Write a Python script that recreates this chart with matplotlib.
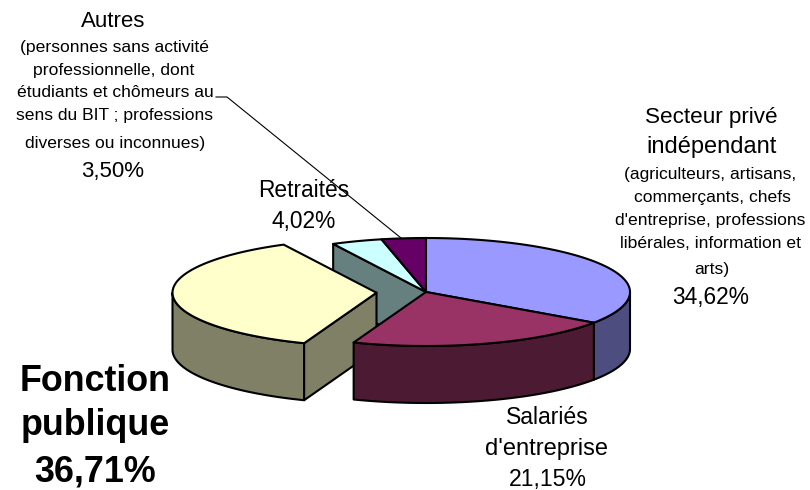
import numpy as np
import matplotlib
matplotlib.use("Agg")
import matplotlib.pyplot as plt
from matplotlib.patches import Polygon

plt.rcParams['font.family'] = ['Liberation Sans', 'DejaVu Sans']

# Data
categories = ["Secteur privé indépendant", "Salariés d'entreprise", "Fonction publique", "Retraités", "Autres"]
shares = [34.62, 21.15, 36.71, 4.02, 3.50]
top_colors = ["#9999FF", "#993366", "#FFFFCC", "#CCFFFF", "#660066"]
side_colors = ["#4D4D80", "#4D1A33", "#808066", "#668080", "#330033"]
explode = [0, 0, 0.243, 0, 0]

# Pie projection
CX, CY, A, B, DEPTH = 426.0, 292.0, 204.0, 54.0, 57.0

fig = plt.figure(figsize=(8.1, 4.9), dpi=100)
ax = fig.add_axes([0, 0, 1, 1])
ax.set_xlim(0, 810)
ax.set_ylim(490, 0)
ax.axis("off")

fracs = np.cumsum([0] + shares) / sum(shares) * 360.0
starts, ends = fracs[:-1], fracs[1:]


def centre(i):
    mid = np.radians((starts[i] + ends[i]) / 2)
    return (CX + explode[i] * A * np.sin(mid), CY - explode[i] * B * np.cos(mid))


def arc(i, a0, a1, dz=0.0):
    cx, cy = centre(i)
    t = np.radians(np.linspace(a0, a1, 100))
    return np.column_stack([cx + A * np.sin(t), cy - B * np.cos(t) + dz])


def poly(pts, color, z):
    ax.add_patch(Polygon(pts, closed=True, facecolor=color, edgecolor="black",
                         linewidth=1.5, joinstyle="round", zorder=z))


def top(i, z):
    cx, cy = centre(i)
    poly(np.vstack([[cx, cy], arc(i, starts[i], ends[i])]), top_colors[i], z)


def cut_wall(i, angle, z):
    cx, cy = centre(i)
    rim = arc(i, angle, angle)[0]
    poly([[cx, cy], rim, rim + [0, DEPTH], [cx, cy + DEPTH]], side_colors[i], z)


def rim_wall(i, z):
    a0, a1 = max(starts[i], 90), min(ends[i], 270)
    if a0 < a1:
        poly(np.vstack([arc(i, a0, a1), arc(i, a1, a0, DEPTH)]), side_colors[i], z)


# Back slices first
cut_wall(3, starts[3], 1)
top(3, 2)
top(4, 2)
# Secteur prive
rim_wall(0, 3)
top(0, 3)
# Fonction publique (exploded)
rim_wall(2, 4)
cut_wall(2, starts[2], 4)
top(2, 5)
# Salaries in front
rim_wall(1, 6)
top(1, 7)

# Leader line for "Autres"
leader_x = [216, 227, 401]
leader_y = [97, 97, 238]
ax.plot(leader_x, leader_y, color="black", lw=0.8, zorder=8)

# Labels: text, centre x, baseline y, size, weight
BIG, SMALL, HUGE = 16.0, 12.6, 25.8
labels = [
    ("Autres", 113, 27, BIG, "normal"),
    ("(personnes sans activité", 115, 52, SMALL, "normal"),
    ("professionnelle, dont", 114, 75, SMALL, "normal"),
    ("étudiants et chômeurs au", 115, 97, SMALL, "normal"),
    ("sens du BIT ; professions", 114, 120, SMALL, "normal"),
    ("diverses ou inconnues)", 115, 148, SMALL, "normal"),
    ("3,50%", 113, 177, BIG, "normal"),
    ("Retraités", 303.5, 197, 16.4, "normal"),
    ("4,02%", 304, 228, 16.4, "normal"),
    ("Secteur privé", 711, 123, 16.2, "normal"),
    ("indépendant", 712, 153, 17.0, "normal"),
    ("(agriculteurs, artisans,", 710, 179, SMALL, "normal"),
    ("commerçants, chefs", 712, 202, SMALL, "normal"),
    ("d'entreprise, professions", 710, 225, SMALL, "normal"),
    ("libérales, information et", 711, 248, SMALL, "normal"),
    ("arts)", 712, 274, SMALL, "normal"),
    ("34,62%", 711, 304, 16.4, "normal"),
    ("Salariés", 547, 424, 16.6, "normal"),
    ("d'entreprise", 546.5, 455, 17.0, "normal"),
    ("21,15%", 548, 486, 16.6, "normal"),
    ("Fonction", 95, 391, HUGE, "bold"),
    ("publique", 95, 435, HUGE, "bold"),
    ("36,71%", 95, 481, HUGE, "bold"),
]
for txt, x, y, size, weight in labels:
    ax.text(x, y, txt, ha="center", va="baseline", fontsize=size, fontweight=weight,
            color="black", zorder=9)

fig.savefig("out.png", dpi=100, facecolor="white")
